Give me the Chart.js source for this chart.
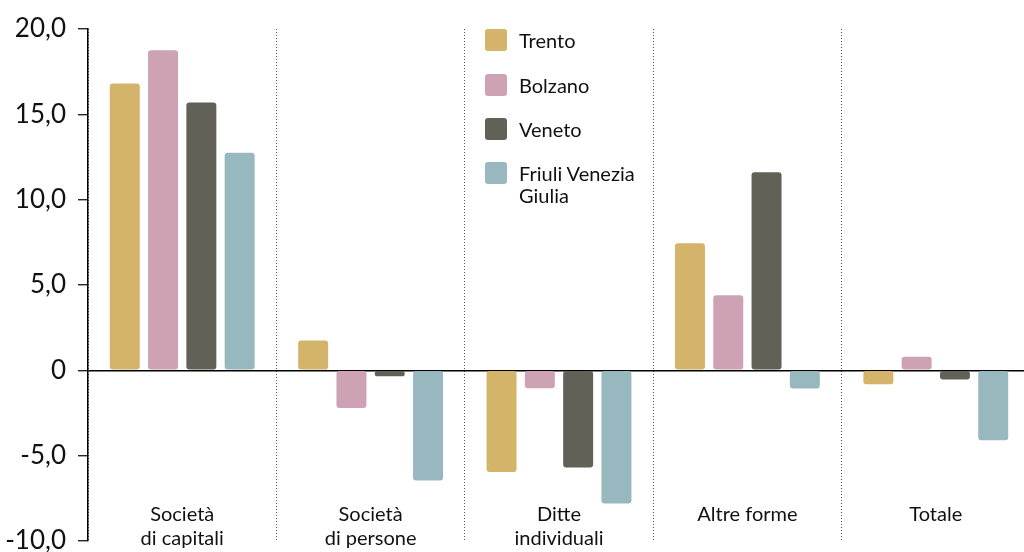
<!DOCTYPE html>
<html>
<head>
<meta charset="utf-8">
<script src="https://cdn.jsdelivr.net/npm/chart.js@4/dist/chart.umd.min.js"></script>
<style>
  html, body { margin:0; padding:0; overflow:hidden; background:#fff; }
  #wrap { position:relative; width:1032px; height:552px; }
  #legend { position:absolute; left:485px; top:29px; font-family:Lato, "Open Sans", sans-serif; font-size:20px; color:#111; }
  .item { position:absolute; left:0; white-space:nowrap; }
  .sw { position:absolute; left:0; top:0; width:22px; height:22px; border-radius:3px; }
  .lt { position:absolute; left:34px; top:0px; line-height:22px; }
</style>
</head>
<body>
<div id="wrap">
  <canvas id="c" width="1032" height="552"></canvas>
  <div id="legend"></div>
</div>
<script>
const categories = [["Società","di capitali"],["Società","di persone"],["Ditte","individuali"],["Altre forme"],["Totale"]];
const seriesNames = ["Trento","Bolzano","Veneto","Friuli Venezia\nGiulia"];
const seriesColors = ["#D4B36A","#CDA2B5","#616157","#97B8BE"];
const trento  = [16.8, 1.75, -5.95, 7.45, -0.82];
const bolzano = [18.75, -2.2, -1.05, 4.4, 0.8];
const veneto  = [15.7, -0.35, -5.7, 11.6, -0.53];
const fvg     = [12.75, -6.45, -7.8, -1.07, -4.1];
const yTicks  = [-10, -5, 0, 5, 10, 15, 20];

const values = [trento, bolzano, veneto, fvg];
const FONT = 'Lato, "Open Sans", sans-serif';

const lg = document.getElementById('legend');
const legendTops = [0, 45, 89, 133];
seriesNames.forEach((n, i) => {
  const it = document.createElement('div');
  it.className = 'item';
  it.style.top = legendTops[i] + 'px';
  const sw = document.createElement('div');
  sw.className = 'sw';
  sw.style.background = seriesColors[i];
  const t = document.createElement('div');
  t.className = 'lt';
  t.innerHTML = n.replace('\n', '<br>');
  it.appendChild(sw); it.appendChild(t);
  lg.appendChild(it);
});

const catLabelPlugin = {
  id: 'catLabels',
  afterDraw(chart) {
    const ctx = chart.ctx, xs = chart.scales.x;
    ctx.save();
    ctx.font = '20px ' + FONT;
    ctx.fillStyle = '#111';
    ctx.textAlign = 'center';
    ctx.textBaseline = 'alphabetic';
    categories.forEach((lab, i) => {
      const x = xs.getPixelForValue(i);
      ctx.fillText(lab[0], x, 521);
      if (lab.length === 2) ctx.fillText(lab[1], x, 545);
    });
    ctx.restore();
  }
};

new Chart(document.getElementById('c'), {
  type: 'bar',
  data: {
    labels: categories.map(c => c.join(' ')),
    datasets: values.map((v, i) => ({
      label: seriesNames[i],
      data: v,
      backgroundColor: seriesColors[i],
      borderRadius: 3,
      borderSkipped: false,
      categoryPercentage: 0.813,
      barPercentage: 0.783
    }))
  },
  options: {
    responsive: false,
    animation: false,
    layout: { padding: { top: 29, right: 2, bottom: 11, left: 0 } },
    plugins: { legend: { display: false }, tooltip: { enabled: false } },
    scales: {
      x: {
        offset: true,
        afterFit(scale) { scale.height = 0; scale.paddingLeft = 0; scale.paddingRight = 0; },
        grid: {
          offset: true,
          display: true,
          drawOnChartArea: true,
          drawTicks: false,
          color: '#555',
          lineWidth: 1
        },
        border: { display: false, dash: [1, 2] },
        ticks: { display: false }
      },
      y: {
        min: -10, max: 20,
        afterBuildTicks(scale) { scale.ticks = yTicks.map(v => ({ value: v })); },
        afterFit(scale) { scale.width = 88; scale.paddingTop = 0; scale.paddingBottom = 0; },
        grid: {
          drawTicks: true,
          tickLength: 10,
          tickColor: '#000',
          tickWidth: 1.2,
          color: (c) => (c.tick && c.tick.value === 0) ? '#000' : 'rgba(0,0,0,0)',
          lineWidth: 1.5
        },
        border: { display: true, color: '#000', width: 1.5 },
        ticks: {
          padding: 12,
          color: '#111',
          font: { family: FONT, size: 26 },
          callback: (v) => v === 0 ? '0' : v.toFixed(1).replace('.', ',')
        }
      }
    }
  },
  plugins: [catLabelPlugin]
});
</script>
</body>
</html>
